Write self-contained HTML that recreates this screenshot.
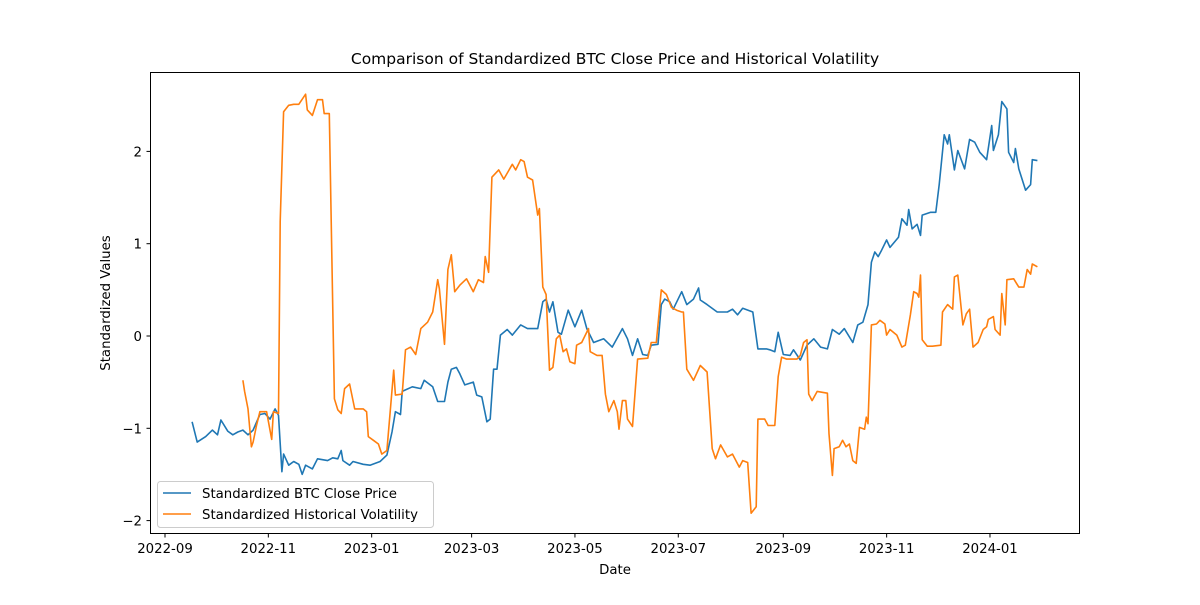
<!DOCTYPE html>
<html><head><meta charset="utf-8"><style>
html,body{margin:0;padding:0;background:#fff;}
svg text{font-family:"DejaVu Sans","Liberation Sans",sans-serif;fill:#000;}
</style></head><body>
<svg id="chart" width="1200" height="600" xmlns="http://www.w3.org/2000/svg">
<rect width="1200" height="600" fill="#fff"/>
<text x="615" y="64" font-size="15.5" text-anchor="middle">Comparison of Standardized BTC Close Price and Historical Volatility</text>
<g id="xticks"></g>
<g id="yticks"></g>
<g id="series"></g>
<rect x="150.5" y="72.5" width="929" height="461" fill="none" stroke="#000" stroke-width="1"/>
<text x="615" y="574" font-size="13.3" text-anchor="middle">Date</text>
<text transform="translate(110,303) rotate(-90)" font-size="13.3" text-anchor="middle">Standardized Values</text>
<g>
<rect x="157.5" y="481.5" width="276" height="46" rx="3" fill="#fff" fill-opacity="0.8" stroke="#ccc"/>
<line x1="163" y1="493" x2="191" y2="493" stroke="#1f77b4" stroke-width="1.6"/>
<text x="202" y="498" font-size="13.3">Standardized BTC Close Price</text>
<line x1="163" y1="514" x2="191" y2="514" stroke="#ff7f0e" stroke-width="1.6"/>
<text x="202" y="519" font-size="13.3">Standardized Historical Volatility</text>
</g>
</svg>
<script>
// days since 2022-09-01
const btcDays=[16,19,24,28,31,33,37,40,43,46,49,52,56,59,62,65,67,69,70,73,76,79,81,83,87,90,96,99,102,104,105,109,111,117,121,127,131,134,136,139,140,146,151,153,158,161,165,167,169,172,174,177,182,184,187,190,192,194,196,198,202,205,210,214,220,223,225,227,229,232,234,238,242,246,249,253,259,264,270,273,276,279,282,285,287,291,293,295,298,300,305,308,312,315,316,320,326,332,335,338,341,347,350,355,357,360,362,365,369,371,375,379,383,387,391,394,398,401,406,409,412,415,417,419,421,423,426,428,433,435,438,439,441,444,446,447,452,455,457,460,462,463,466,468,472,475,478,481,485,488,489,492,494,497,498,501,502,504,508,511,512,515];
const btcValues=[-0.93,-1.15,-1.09,-1.02,-1.07,-0.91,-1.03,-1.07,-1.04,-1.02,-1.07,-1.02,-0.85,-0.84,-0.9,-0.79,-0.86,-1.47,-1.28,-1.4,-1.36,-1.39,-1.5,-1.4,-1.44,-1.33,-1.35,-1.32,-1.33,-1.24,-1.35,-1.4,-1.36,-1.39,-1.4,-1.36,-1.29,-1.04,-0.82,-0.85,-0.6,-0.55,-0.57,-0.48,-0.55,-0.71,-0.71,-0.5,-0.36,-0.34,-0.41,-0.53,-0.5,-0.64,-0.66,-0.93,-0.9,-0.36,-0.36,0.01,0.07,0.01,0.12,0.08,0.08,0.37,0.4,0.26,0.37,0.04,0.02,0.28,0.1,0.28,0.08,-0.07,-0.03,-0.12,0.08,-0.03,-0.21,-0.03,-0.2,-0.21,-0.1,-0.09,0.34,0.4,0.37,0.29,0.48,0.34,0.4,0.52,0.39,0.34,0.26,0.26,0.29,0.23,0.3,0.26,-0.14,-0.14,-0.15,-0.17,0.04,-0.2,-0.21,-0.15,-0.26,-0.1,-0.03,-0.12,-0.14,0.07,0.02,0.08,-0.07,0.12,0.15,0.34,0.8,0.91,0.86,0.93,1.04,0.96,1.07,1.27,1.2,1.37,1.16,1.21,1.09,1.31,1.34,1.34,1.64,2.18,2.08,2.18,1.8,2.01,1.81,2.13,2.1,1.99,1.91,2.28,2.01,2.18,2.54,2.46,1.99,1.88,2.03,1.81,1.58,1.64,1.91,1.9];
const volDays=[46,47,49,51,52,54,56,60,63,64,67,68,70,73,76,79,83,84,87,90,93,94,97,99,100,102,104,106,109,112,117,119,120,123,126,128,131,135,136,140,142,145,148,151,155,158,161,162,165,167,169,171,174,178,182,185,188,189,191,193,197,200,205,207,210,212,214,217,220,221,223,225,227,229,231,233,235,237,239,242,243,246,250,251,255,258,260,262,265,267,268,270,272,273,276,279,285,287,290,293,296,299,302,305,306,308,312,316,320,323,325,328,332,335,339,341,344,346,349,350,354,356,360,362,364,367,373,375,377,379,380,382,385,391,392,394,395,398,400,402,404,406,408,410,413,414,415,417,420,422,425,426,428,432,435,437,440,442,444,445,446,447,450,453,458,459,462,465,466,468,471,473,475,477,480,483,485,486,489,490,493,494,496,497,501,504,507,509,511,512,515];
const volValues=[-0.48,-0.6,-0.79,-1.2,-1.15,-0.97,-0.82,-0.82,-1.12,-0.82,-0.84,1.24,2.43,2.5,2.51,2.51,2.62,2.45,2.39,2.56,2.56,2.41,2.41,0.34,-0.68,-0.8,-0.84,-0.57,-0.52,-0.79,-0.79,-0.82,-1.09,-1.13,-1.17,-1.28,-1.24,-0.37,-0.64,-0.63,-0.15,-0.12,-0.2,0.08,0.15,0.26,0.61,0.51,-0.09,0.72,0.88,0.48,0.55,0.62,0.48,0.61,0.58,0.86,0.69,1.72,1.8,1.7,1.86,1.8,1.91,1.89,1.72,1.69,1.31,1.38,0.53,0.45,-0.37,-0.34,-0.03,0.01,-0.17,-0.14,-0.28,-0.3,-0.1,-0.07,0.08,-0.17,-0.21,-0.21,-0.63,-0.82,-0.7,-0.82,-1.01,-0.7,-0.7,-0.9,-0.98,-0.25,-0.24,-0.07,-0.07,0.5,0.45,0.31,0.28,0.26,0.26,-0.36,-0.48,-0.32,-0.39,-1.22,-1.33,-1.18,-1.31,-1.28,-1.42,-1.35,-1.37,-1.92,-1.85,-0.9,-0.9,-0.97,-0.97,-0.44,-0.23,-0.25,-0.25,-0.21,-0.07,-0.04,-0.63,-0.7,-0.6,-0.62,-1.06,-1.51,-1.22,-1.2,-1.13,-1.2,-1.17,-1.35,-1.38,-0.99,-1.01,-0.88,-0.95,0.12,0.13,0.17,0.13,0.01,0.07,0.01,-0.12,-0.1,0.23,0.48,0.46,0.42,0.66,-0.04,-0.11,-0.11,-0.1,0.26,0.34,0.29,0.64,0.66,0.12,0.24,0.29,-0.12,-0.07,0.07,0.1,0.18,0.21,0.07,0.01,0.46,0.12,0.61,0.62,0.53,0.53,0.72,0.67,0.78,0.75];
const xTickLabels=["2022-09","2022-11","2023-01","2023-03","2023-05","2023-07","2023-09","2023-11","2024-01"];
const xTickDays=[0,61,122,181,242,303,365,426,487];
const yTickValues=[-2,-1,0,1,2];

const X=d=>165+d*1.694;
const Y=v=>336-v*92.3;
const NS="http://www.w3.org/2000/svg";
function mk(tag,attrs,parent){const e=document.createElementNS(NS,tag);for(const k in attrs)e.setAttribute(k,attrs[k]);parent.appendChild(e);return e;}
const xg=document.getElementById('xticks'),yg=document.getElementById('yticks'),sg=document.getElementById('series');
xTickDays.forEach((d,i)=>{
  const x=X(d);
  const l=mk('line',{x1:x,x2:x,y1:534,y2:537.5,stroke:'#000'},xg);
  
  
  const t=mk('text',{x:x,y:553,'font-size':13.3,'text-anchor':'middle'},xg);
  t.textContent=xTickLabels[i];
  
  
});
yTickValues.forEach(v=>{
  const y=Y(v);
  const l=mk('line',{x1:146.5,x2:150,y1:y,y2:y,stroke:'#000'},yg);
  
  
  const t=mk('text',{x:142,y:y+5,'font-size':13.3,'text-anchor':'end'},yg);
  t.textContent=v<0?'\u2212'+Math.abs(v):String(v);
  
  
});
function line(days,vals,color,name){
  const pts=days.map((d,i)=>X(d).toFixed(1)+','+Y(vals[i]).toFixed(1)).join(' ');
  const p=mk('polyline',{points:pts,fill:'none',stroke:color,'stroke-width':1.6,'stroke-linejoin':'round'},sg);
  
  
}
line(btcDays,btcValues,'#1f77b4','btc-price-line');
line(volDays,volValues,'#ff7f0e','volatility-line');
</script>
</body></html>
